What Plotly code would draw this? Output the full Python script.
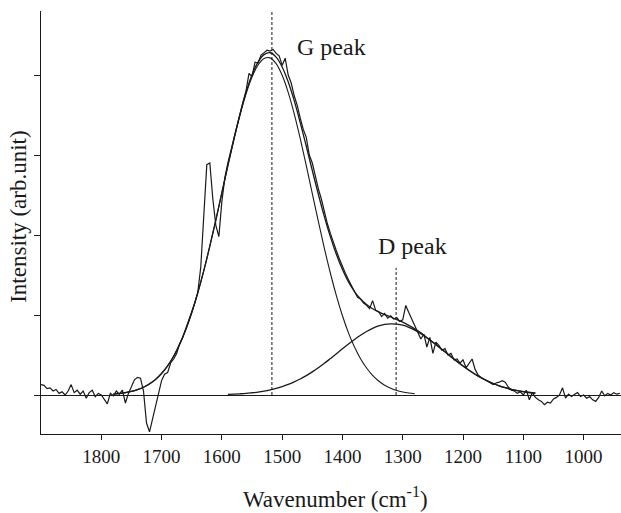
import plotly.graph_objects as go

# ---------------- data ----------------
# measured Raman spectrum (cm^-1, arb. units)
spec_x = [1900, 1895, 1890, 1885, 1880, 1875, 1870, 1865, 1860, 1855, 1850, 1845, 1840, 1835, 1830,
          1825, 1820, 1815, 1810, 1805, 1800, 1795, 1790, 1785, 1780, 1775, 1770, 1765, 1760, 1755,
          1750, 1745, 1740, 1735, 1730, 1725, 1720, 1715, 1710, 1705, 1700, 1695, 1690, 1685, 1680,
          1675, 1670, 1665, 1660, 1655, 1650, 1645, 1640, 1635, 1630, 1625, 1620, 1615, 1610, 1605,
          1600, 1595, 1590, 1585, 1580, 1575, 1570, 1565, 1560, 1555, 1550, 1545, 1540, 1535, 1530,
          1525, 1520, 1515, 1510, 1505, 1500, 1495, 1490, 1485, 1480, 1475, 1470, 1465, 1460, 1455,
          1450, 1445, 1440, 1435, 1430, 1425, 1420, 1415, 1410, 1405, 1400, 1395, 1390, 1385, 1380,
          1375, 1370, 1365, 1360, 1355, 1350, 1345, 1340, 1335, 1330, 1325, 1320, 1315, 1310, 1305,
          1300, 1295, 1290, 1285, 1280, 1275, 1270, 1265, 1260, 1255, 1250, 1245, 1240, 1235, 1230,
          1225, 1220, 1215, 1210, 1205, 1200, 1195, 1190, 1185, 1180, 1175, 1170, 1165, 1160, 1155,
          1150, 1145, 1140, 1135, 1130, 1125, 1120, 1115, 1110, 1105, 1100, 1095, 1090, 1085, 1080,
          1075, 1070, 1065, 1060, 1055, 1050, 1045, 1040, 1035, 1030, 1025, 1020, 1015, 1010, 1005,
          1000, 995, 990, 985, 980, 975, 970, 965, 960, 955, 950, 945, 940]
spec_y = [0.13, 0.12, 0.08, 0.09, 0.05, 0.07, 0.02, 0.04, 0.00, 0.05, 0.13, 0.03, 0.06, 0.01, 0.05,
          -0.04, 0.03, 0.06, -0.02, 0.02, 0.00, -0.05, -0.11, 0.02, -0.01, 0.05, 0.01, 0.06, -0.10, 0.02,
          0.10, 0.19, 0.22, 0.21, 0.05, -0.35, -0.46, -0.30, -0.12, 0.05, 0.18, 0.26, 0.28, 0.40, 0.45,
          0.52, 0.64, 0.72, 0.82, 0.92, 1.04, 1.15, 1.28, 1.60, 2.30, 2.88, 2.90, 2.45, 2.12, 1.98,
          2.42, 2.72, 2.90, 3.06, 3.22, 3.34, 3.52, 3.66, 3.80, 4.02, 3.98, 4.16, 4.15, 4.25, 4.28,
          4.31, 4.30, 4.32, 4.27, 4.24, 4.12, 4.21, 4.00, 3.90, 3.74, 3.62, 3.46, 3.32, 3.22, 3.00,
          2.90, 2.72, 2.58, 2.45, 2.28, 2.14, 2.02, 1.90, 1.80, 1.70, 1.60, 1.52, 1.44, 1.36, 1.30,
          1.22, 1.20, 1.15, 1.12, 1.08, 1.18, 1.06, 1.04, 0.98, 1.02, 0.96, 0.99, 0.95, 0.97, 0.92,
          0.94, 1.12, 1.03, 0.95, 0.86, 0.80, 0.70, 0.76, 0.60, 0.72, 0.52, 0.66, 0.62, 0.56, 0.58,
          0.50, 0.52, 0.44, 0.45, 0.40, 0.44, 0.34, 0.40, 0.45, 0.32, 0.25, 0.22, 0.20, 0.17, 0.16,
          0.13, 0.15, 0.16, 0.18, 0.16, 0.10, 0.06, 0.05, 0.02, 0.04, 0.00, 0.06, -0.06, 0.03, -0.03,
          -0.06, -0.08, -0.12, -0.09, -0.10, -0.05, -0.03, 0.00, 0.09, -0.04, 0.01, -0.02, 0.01, 0.03, -0.02,
          0.00, -0.04, -0.02, -0.06, -0.08, -0.03, 0.05, -0.01, 0.02, 0.00, 0.03, 0.01, 0.02]

# fitted G band
g_x = [1780, 1770, 1760, 1750, 1740, 1730, 1720, 1710, 1700, 1690, 1680, 1670, 1660, 1650, 1640,
       1630, 1620, 1610, 1600, 1590, 1580, 1570, 1560, 1550, 1540, 1530, 1520, 1510, 1500, 1490,
       1480, 1470, 1460, 1450, 1440, 1430, 1420, 1410, 1400, 1390, 1380, 1370, 1360, 1350, 1340,
       1330, 1320, 1310, 1300, 1290, 1280]
g_y = [0.012, 0.019, 0.030, 0.045, 0.067, 0.097, 0.139, 0.195, 0.269, 0.364, 0.485, 0.634, 0.815, 1.029, 1.276,
       1.554, 1.860, 2.187, 2.526, 2.865, 3.193, 3.496, 3.761, 3.974, 4.125, 4.206, 4.214, 4.142, 3.996, 3.783,
       3.515, 3.204, 2.867, 2.517, 2.169, 1.834, 1.522, 1.240, 0.991, 0.777, 0.599, 0.453, 0.337, 0.245, 0.175,
       0.123, 0.085, 0.057, 0.038, 0.025, 0.016]

# fitted D band
d_x = [1590, 1580, 1570, 1560, 1550, 1540, 1530, 1520, 1510, 1500, 1490, 1480, 1470, 1460, 1450,
       1440, 1430, 1420, 1410, 1400, 1390, 1380, 1370, 1360, 1350, 1340, 1330, 1320, 1310, 1300,
       1290, 1280, 1270, 1260, 1250, 1240, 1230, 1220, 1210, 1200, 1190, 1180, 1170, 1160, 1150,
       1140, 1130, 1120, 1110, 1100, 1090, 1080]
d_y = [0.008, 0.011, 0.015, 0.020, 0.028, 0.037, 0.049, 0.064, 0.082, 0.105, 0.132, 0.164, 0.200, 0.242, 0.289,
       0.340, 0.396, 0.455, 0.515, 0.577, 0.637, 0.694, 0.747, 0.794, 0.833, 0.863, 0.882, 0.890, 0.886, 0.872,
       0.846, 0.811, 0.767, 0.716, 0.660, 0.601, 0.540, 0.479, 0.419, 0.362, 0.309, 0.260, 0.216, 0.178, 0.144,
       0.115, 0.091, 0.071, 0.054, 0.041, 0.031, 0.023]

# total fit (G + D)
fit_x = [1780, 1770, 1760, 1750, 1740, 1730, 1720, 1710, 1700, 1690, 1680, 1670, 1660, 1650, 1640,
         1630, 1620, 1610, 1600, 1590, 1580, 1570, 1560, 1550, 1540, 1530, 1520, 1510, 1500, 1490,
         1480, 1470, 1460, 1450, 1440, 1430, 1420, 1410, 1400, 1390, 1380, 1370, 1360, 1350, 1340,
         1330, 1320, 1310, 1300, 1290, 1280, 1270, 1260, 1250, 1240, 1230, 1220, 1210, 1200, 1190,
         1180, 1170, 1160, 1150, 1140, 1130, 1120, 1110, 1100, 1090, 1080]
fit_y = [0.012, 0.019, 0.030, 0.045, 0.067, 0.097, 0.139, 0.195, 0.269, 0.364, 0.485, 0.634, 0.815, 1.029, 1.276,
         1.554, 1.860, 2.187, 2.531, 2.873, 3.204, 3.511, 3.781, 4.002, 4.162, 4.255, 4.278, 4.224, 4.101, 3.915,
         3.679, 3.404, 3.109, 2.806, 2.509, 2.230, 1.977, 1.755, 1.568, 1.414, 1.293, 1.200, 1.131, 1.078, 1.038,
         1.005, 0.975, 0.943, 0.910, 0.871, 0.827, 0.777, 0.716, 0.660, 0.601, 0.540, 0.479, 0.419, 0.362, 0.309,
         0.260, 0.216, 0.178, 0.144, 0.115, 0.091, 0.071, 0.054, 0.041, 0.031, 0.023]

# peak positions (dashed markers) and their heights
peak_pos = [1517, 1311]
peak_top = [4.8, 1.59]
peak_names = ["G peak", "D peak"]
label_x = [1478, 1345]
label_y = [4.35, 1.86]

x_ticks = [1800, 1700, 1600, 1500, 1400, 1300, 1200, 1100, 1000]
y_ticks = [0, 1, 2, 3, 4]

# ---------------- figure ----------------
FONT = "Liberation Serif, Times New Roman, serif"
INK = "#1a1a1a"

fig = go.Figure()
fig.add_trace(go.Scatter(x=spec_x, y=spec_y, mode="lines", line=dict(color=INK, width=1.2), hoverinfo="skip"))
fig.add_trace(go.Scatter(x=fit_x, y=fit_y, mode="lines", line=dict(color=INK, width=1.3, shape="spline"), hoverinfo="skip"))
fig.add_trace(go.Scatter(x=g_x, y=g_y, mode="lines", line=dict(color=INK, width=1.1, shape="spline"), hoverinfo="skip"))
fig.add_trace(go.Scatter(x=d_x, y=d_y, mode="lines", line=dict(color=INK, width=1.3, shape="spline"), hoverinfo="skip"))

for px, top in zip(peak_pos, peak_top):
    fig.add_trace(go.Scatter(x=[px, px], y=[0, top], mode="lines",
                             line=dict(color=INK, width=1, dash="3px,2px"), hoverinfo="skip"))

for name, lx, ly in zip(peak_names, label_x, label_y):
    fig.add_annotation(x=lx, y=ly, text=name, showarrow=False, xanchor="left", yanchor="middle",
                       font=dict(family=FONT, size=24, color=INK))

fig.add_annotation(xref="paper", yref="paper", x=0.507, y=-0.151, text="Wavenumber (cm<sup>-1</sup>)",
                   showarrow=False, xanchor="center", yanchor="middle",
                   font=dict(family=FONT, size=23, color=INK))
fig.add_annotation(xref="paper", yref="paper", x=-0.040, y=0.513, text="Intensity (arb.unit)",
                   showarrow=False, textangle=-90, xanchor="center", yanchor="middle",
                   font=dict(family=FONT, size=23, color=INK))

fig.update_layout(
    width=621, height=513,
    margin=dict(l=41, r=0, t=11, b=79),
    paper_bgcolor="white", plot_bgcolor="white",
    showlegend=False,
    font=dict(family=FONT, color=INK),
)
fig.update_xaxes(range=[1900, 938], tickvals=x_ticks, ticktext=[str(t) for t in x_ticks],
                 ticks="outside", ticklen=5, tickwidth=1, tickcolor=INK,
                 showline=True, linecolor=INK, linewidth=1.3, showgrid=False, zeroline=False,
                 tickfont=dict(family=FONT, size=19, color=INK))
fig.update_yaxes(range=[-0.4875, 4.8], tickvals=y_ticks, showticklabels=False,
                 ticks="outside", ticklen=6, tickwidth=1, tickcolor=INK,
                 showline=True, linecolor=INK, linewidth=1.3, showgrid=False,
                 zeroline=True, zerolinecolor=INK, zerolinewidth=1)

# remove the default page margin so the 621x513 figure fills the window exactly
fig.write_html("out.html", config={"displayModeBar": False},
               post_script="document.body.style.margin='0';document.body.style.overflow='hidden';")
